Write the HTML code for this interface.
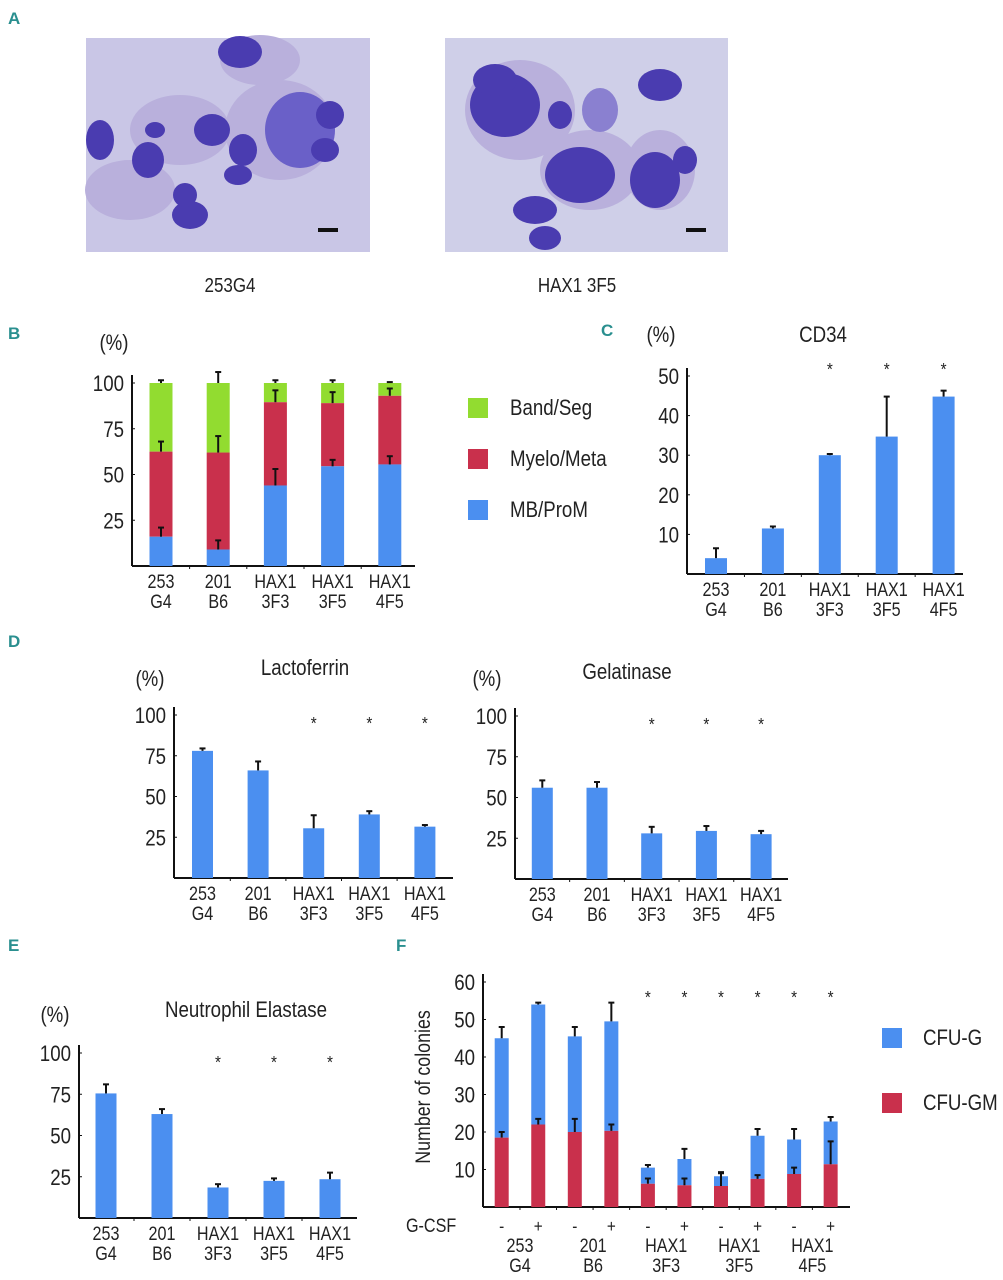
<!DOCTYPE html>
<html><head><meta charset="utf-8"><style>
body{margin:0;background:#fff}
svg{display:block;font-family:"Liberation Sans",sans-serif}
text{fill:#222}
</style></head><body>
<svg id="fig" width="1003" height="1280" viewBox="0 0 1003 1280" xmlns="http://www.w3.org/2000/svg">
<g font-weight="bold" font-size="17">
<text x="8" y="24" style="fill:#2a8f8f">A</text>
<text x="8" y="339" style="fill:#2a8f8f">B</text>
<text x="601" y="336" style="fill:#2a8f8f">C</text>
<text x="8" y="647" style="fill:#2a8f8f">D</text>
<text x="8" y="951" style="fill:#2a8f8f">E</text>
<text x="396" y="951" style="fill:#2a8f8f">F</text>
</g>
<g>
<rect x="86" y="38" width="284" height="214" fill="#c9c6e6"/>
<g fill="#b9b0dc">
<ellipse cx="280" cy="130" rx="55" ry="50"/><ellipse cx="180" cy="130" rx="50" ry="35"/><ellipse cx="130" cy="190" rx="45" ry="30"/><ellipse cx="260" cy="60" rx="40" ry="25"/>
</g>
<g fill="#4a3cb0">
<ellipse cx="240" cy="52" rx="22" ry="16"/><ellipse cx="300" cy="130" rx="35" ry="38" fill="#6a60c8"/>
<ellipse cx="212" cy="130" rx="18" ry="16"/><ellipse cx="243" cy="150" rx="14" ry="16"/>
<ellipse cx="148" cy="160" rx="16" ry="18"/><ellipse cx="100" cy="140" rx="14" ry="20"/>
<ellipse cx="190" cy="215" rx="18" ry="14"/><ellipse cx="185" cy="195" rx="12" ry="12"/>
<ellipse cx="330" cy="115" rx="14" ry="14"/><ellipse cx="238" cy="175" rx="14" ry="10"/>
<ellipse cx="325" cy="150" rx="14" ry="12"/><ellipse cx="155" cy="130" rx="10" ry="8"/>
</g>
<rect x="318" y="228" width="20" height="4" fill="#111"/>
</g>
<g>
<rect x="445" y="38" width="283" height="214" fill="#cfcfe8"/>
<g fill="#b9b0dc">
<ellipse cx="520" cy="110" rx="55" ry="50"/><ellipse cx="590" cy="170" rx="50" ry="40"/><ellipse cx="660" cy="170" rx="35" ry="40"/>
</g>
<g fill="#4a3cb0">
<ellipse cx="505" cy="105" rx="35" ry="32"/><ellipse cx="495" cy="80" rx="22" ry="16"/>
<ellipse cx="560" cy="115" rx="12" ry="14"/><ellipse cx="600" cy="110" rx="18" ry="22" fill="#8a80d0"/>
<ellipse cx="580" cy="175" rx="35" ry="28"/><ellipse cx="535" cy="210" rx="22" ry="14"/>
<ellipse cx="545" cy="238" rx="16" ry="12"/><ellipse cx="655" cy="180" rx="25" ry="28"/>
<ellipse cx="660" cy="85" rx="22" ry="16"/><ellipse cx="685" cy="160" rx="12" ry="14"/>
</g>
<rect x="686" y="228" width="20" height="4" fill="#111"/>
</g>
<text font-size="20" text-anchor="middle" transform="translate(230,292) scale(0.85,1)">253G4</text>
<text font-size="20" text-anchor="middle" transform="translate(577,292) scale(0.85,1)">HAX1 3F5</text>
<g id="charts"></g>
</svg>
<script>
const NS="http://www.w3.org/2000/svg";
const cats=["253|G4","201|B6","HAX1|3F3","HAX1|3F5","HAX1|4F5"];
// B stacked
const bBlue=[16,9,44,54.5,55.5];
const bBlueErr=[21,14,53,58,60];
const bRedTop=[62.5,62,89.5,89,93];
const bRedErr=[68,71,96,95,97];
const bGreenTop=[100,100,100,100,100];
const bGreenErr=[101.5,106,101.5,101.5,100.5];
const pctTicks=[25,50,75,100];
// C
const cdVals=[4,11.5,30,34.7,44.8];
const cdErr=[6.5,12,30.3,44.8,46.3];
const cdTicks=[10,20,30,40,50];
// D
const lfVals=[78,66,30.5,39,31.5];
const lfErr=[79.5,71.5,38.5,41,32.5];
const glVals=[56,56,28,29.5,27.5];
const glErr=[60.5,59.5,32,32.5,29.5];
// E
const neVals=[75.5,63,18.5,22.5,23.5];
const neErr=[81,66,20.5,24,27.5];
const sigFlags=[0,0,1,1,1];
// F
const fCats=["253|G4","201|B6","HAX1|3F3","HAX1|3F5","HAX1|4F5"];
const fGcsf=["-","+","-","+","-","+","-","+","-","+"];
const fTotal=[45,54,45.5,49.5,10.5,12.8,8.2,19,18,22.8];
const fTotalErr=[48,54.5,48,54.5,11.2,15.5,9.3,20.8,20.8,24];
const fGM=[18.5,22,20,20.3,6.2,5.8,5.6,7.5,8.8,11.4];
const fGMErr=[20,23.5,23.5,22,7.6,7.6,9,8.5,10.5,17.5];
const fSig=[0,0,0,0,1,1,1,1,1,1];
const fTicks=[10,20,30,40,50,60];

const BLUE="#4b8ff0",RED="#c9304c",GREEN="#92dc30";
const root=document.getElementById('charts');
function el(t,a,p){const e=document.createElementNS(NS,t);for(const k in a)e.setAttribute(k,a[k]);(p||root).appendChild(e);return e;}
function txt(s,x,y,size,anchor,p){const e=el('text',{x:0,y:0,'font-size':size,'text-anchor':anchor||'middle',transform:'translate('+x+','+y+') scale(0.85,1)'},p);e.textContent=s;return e;}

function chart(name,o){
  const g=el('g',{});
  
  
  const y=v=>o.y0-(v/o.max)*(o.y0-o.yTop);
  const x=i=>o.x0+o.first+i*o.step;
  el('line',{x1:o.x0,y1:o.y0,x2:o.xEnd,y2:o.y0,stroke:'#111','stroke-width':2},g);
  el('line',{x1:o.x0,y1:o.y0,x2:o.x0,y2:y(o.max)-8,stroke:'#111','stroke-width':2},g);
  o.ticks.forEach(t=>{
    const tl=txt(String(t),o.x0-8,y(t)+8,22,'end',g);
    
    
    el('line',{x1:o.x0,y1:y(t),x2:o.x0+3,y2:y(t),stroke:'#111'},g);
  });
  for(let i=0;i<o.n-1;i++){const mx=x(i)+o.step/2;el('line',{x1:mx,y1:o.y0,x2:mx,y2:o.y0+3,stroke:'#111'},g);}
  return {g,x,y};
}
function bar(g,cx,y0,y1,w,col,name){
  const r=el('rect',{x:cx-w/2,y:Math.min(y0,y1),width:w,height:Math.abs(y0-y1),fill:col},g);
  
  
}
function err(g,cx,yv,ye){el('line',{x1:cx,y1:yv,x2:cx,y2:ye,stroke:'#111','stroke-width':2},g);el('line',{x1:cx-3,y1:ye,x2:cx+3,y2:ye,stroke:'#111','stroke-width':2},g);}
function catLabels(g,x,y0,labs){labs.forEach((c,i)=>{const [a,b]=c.split('|');
  const t1=txt(a,x(i),y0+22,19,'middle',g);
  const t2=txt(b,x(i),y0+42,19,'middle',g);});}

function simple(name,vals,errs,o,title,tx,ty,px,py,starY){
  const c=chart(name,Object.assign({n:5},o));
  vals.forEach((v,i)=>{bar(c.g,c.x(i),c.y(0),c.y(v),o.bw,BLUE,'bar-'+i);err(c.g,c.x(i),c.y(v),c.y(errs[i]));
    if(sigFlags[i]){const s=txt('*',c.x(i),starY,18,'middle',c.g);}});
  catLabels(c.g,c.x,o.y0,cats);
  const t=txt(title,tx,ty,22,'middle',c.g);
  const p=txt('(%)',px,py,22,'middle',c.g);
}

// B
(function(){
  const o={x0:132,y0:566,yTop:383,max:100,xEnd:415,first:29,step:57.2,bw:23,ticks:pctTicks,n:5};
  const c=chart('stacked-chart-differentiation',o);
  bBlue.forEach((v,i)=>{const cx=c.x(i);
    bar(c.g,cx,c.y(bRedTop[i]),c.y(bGreenTop[i]),o.bw,GREEN,'bar-band-seg');
    bar(c.g,cx,c.y(v),c.y(bRedTop[i]),o.bw,RED,'bar-myelo-meta');
    bar(c.g,cx,c.y(0),c.y(v),o.bw,BLUE,'bar-mb-prom');
    err(c.g,cx,c.y(v),c.y(bBlueErr[i]));err(c.g,cx,c.y(bRedTop[i]),c.y(bRedErr[i]));err(c.g,cx,c.y(bGreenTop[i]),c.y(bGreenErr[i]));});
  catLabels(c.g,c.x,o.y0,cats);
  const p=txt('(%)',114,350,22,'middle',c.g);
  [['Band/Seg',GREEN,398],['Myelo/Meta',RED,449],['MB/ProM',BLUE,500]].forEach(l=>{
    const lg=el('g',{},c.g);
    el('rect',{x:468,y:l[2],width:20,height:20,fill:l[1]},lg);txt(l[0],510,l[2]+17,22,'start',lg);});
})();
simple('cd34-chart',cdVals,cdErr,{x0:687,y0:574,yTop:376,max:50,xEnd:963,first:29,step:56.9,bw:22,ticks:cdTicks},'CD34',823,342,661,342,375);
simple('lactoferrin-chart',lfVals,lfErr,{x0:174,y0:878,yTop:715,max:100,xEnd:453,first:28.5,step:55.6,bw:21,ticks:pctTicks},'Lactoferrin',305,675,150,686,729);
simple('gelatinase-chart',glVals,glErr,{x0:515,y0:879,yTop:716,max:100,xEnd:788,first:27.3,step:54.7,bw:21,ticks:pctTicks},'Gelatinase',627,679,487,686,730);
simple('neutrophil-elastase-chart',neVals,neErr,{x0:79,y0:1218,yTop:1053,max:100,xEnd:357,first:27,step:56,bw:21,ticks:pctTicks},'Neutrophil Elastase',246,1017,55,1022,1068);

// F
(function(){
  const o={x0:483,y0:1207,yTop:982,max:60,xEnd:850,first:18.7,step:36.55,bw:14,ticks:fTicks,n:10};
  const c=chart('colony-chart',o);
  fTotal.forEach((v,i)=>{const cx=c.x(i);
    bar(c.g,cx,c.y(fGM[i]),c.y(v),o.bw,BLUE,'bar-cfu-g');
    bar(c.g,cx,c.y(0),c.y(fGM[i]),o.bw,RED,'bar-cfu-gm');
    err(c.g,cx,c.y(v),c.y(fTotalErr[i]));err(c.g,cx,c.y(fGM[i]),c.y(fGMErr[i]));
    const s=txt(fGcsf[i],cx,1232,18,'middle',c.g);
    if(fSig[i]){const st=txt('*',cx,1003,18,'middle',c.g);}});
  fCats.forEach((cc,k)=>{const [a,b]=cc.split('|');const mx=(c.x(2*k)+c.x(2*k+1))/2;
    const t1=txt(a,mx,1252,19,'middle',c.g);
    const t2=txt(b,mx,1272,19,'middle',c.g);});
  const g1=txt('G-CSF',406,1232,19,'start',c.g);
  const yt=el('text',{x:0,y:0,'font-size':21,'text-anchor':'middle',transform:'translate(430,1087) rotate(-90) scale(0.85,1)'},c.g);
  yt.textContent='Number of colonies';
  
  [['CFU-G',BLUE,1028],['CFU-GM',RED,1093]].forEach(l=>{
    const lg=el('g',{},c.g);
    el('rect',{x:882,y:l[2],width:20,height:20,fill:l[1]},lg);txt(l[0],923,l[2]+17,22,'start',lg);});
})();
</script>
</body></html>
